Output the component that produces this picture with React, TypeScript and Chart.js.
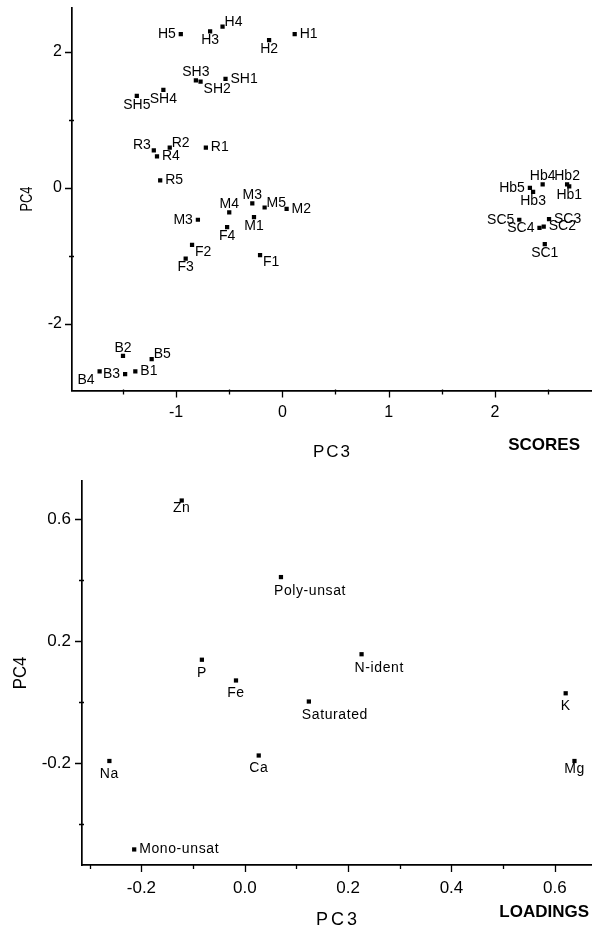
import React, { useEffect, useRef } from 'react';
import { Chart, registerables } from 'chart.js';

Chart.register(...registerables);

// ---------------- SCORES data ----------------
const SCORE_NAMES = [
  'H1', 'H2', 'H3', 'H4', 'H5',
  'SH1', 'SH2', 'SH3', 'SH4', 'SH5',
  'R1', 'R2', 'R3', 'R4', 'R5',
  'M1', 'M2', 'M3', 'M4', 'M5', 'M3',
  'F1', 'F2', 'F3', 'F4',
  'Hb1', 'Hb2', 'Hb3', 'Hb4', 'Hb5',
  'SC1', 'SC2', 'SC3', 'SC4', 'SC5',
  'B1', 'B2', 'B3', 'B4', 'B5',
];
const SCORE_PC3 = [
  0.116, -0.125, -0.68, -0.563, -0.956,
  -0.535, -0.77, -0.814, -1.12, -1.37,
  -0.72, -1.06, -1.21, -1.18, -1.15,
  -0.267, 0.04, -0.283, -0.5, -0.167, -0.795,
  -0.21, -0.85, -0.91, -0.52,
  2.70, 2.68, 2.36, 2.45, 2.33,
  2.47, 2.46, 2.51, 2.42, 2.23,
  -1.384, -1.50, -1.48, -1.72, -1.23,
];
const SCORE_PC4 = [
  2.26, 2.17, 2.30, 2.37, 2.26,
  1.60, 1.56, 1.58, 1.44, 1.35,
  0.59, 0.59, 0.55, 0.46, 0.11,
  -0.43, -0.31, -0.23, -0.36, -0.29, -0.47,
  -0.99, -0.84, -1.04, -0.58,
  0.02, 0.05, -0.06, 0.05, 0.0,
  -0.83, -0.57, -0.46, -0.59, -0.47,
  -2.70, -2.47, -2.74, -2.70, -2.52,
];
// label placement relative to marker
const SCORE_PLACE = [
  'E', 'S', 'S', 'NE', 'W',
  'E', 'SE', 'N', 'S', 'S',
  'E', 'NE', 'NW', 'E', 'E',
  'S', 'E', 'N', 'N', 'NE', 'W',
  'SE', 'SE', 'S', 'S',
  'S', 'N', 'S', 'N', 'W',
  'S', 'E', 'E', 'W', 'W',
  'E', 'N', 'W', 'SW', 'NE',
];
const SCORE_X_LABELLED = [-1, 0, 1, 2];
const SCORE_X_MINOR = [-1.5, -0.5, 0.5, 1.5, 2.5];
const SCORE_Y_LABELLED = [-2, 0, 2];
const SCORE_Y_MINOR = [-1, 1];

// ---------------- LOADINGS data ----------------
const LOAD_NAMES = ['Zn', 'Poly-unsat', 'P', 'Fe', 'Saturated', 'N-ident', 'K', 'Na', 'Ca', 'Mg', 'Mono-unsat'];
const LOAD_PC3 = [-0.122, 0.070, -0.083, -0.017, 0.124, 0.226, 0.621, -0.262, 0.027, 0.638, -0.214];
const LOAD_PC4 = [0.662, 0.411, 0.14, 0.072, 0.003, 0.158, 0.03, -0.192, -0.174, -0.192, -0.482];
const LOAD_PLACE = ['S0', 'Sl', 'S', 'S', 'Sl', 'Sl', 'S', 'S', 'S', 'S0', 'E'];
const LOAD_X_LABELLED = [-0.2, 0, 0.2, 0.4, 0.6];
const LOAD_X_MINOR = [-0.3, -0.1, 0.1, 0.3, 0.5];
const LOAD_Y_LABELLED = [-0.2, 0.2, 0.6];
const LOAD_Y_MINOR = [-0.4, 0, 0.4];

const FONT = "'Liberation Sans', Arial, Helvetica, sans-serif";

type Cfg = {
  names: string[];
  place: string[];
  labelFont: string;
  labelSpacing: string;
  sOff: number;
  xMajor: number[];
  xMinor: number[];
  yMajor: number[];
  yMinor: number[];
  yTitleX: number;
  yTitleSize: number;
  yTitleScale: number;
  xTitleY: number;
  xTitleSize: number;
  xTitleSpacing: number;
  captionText: string;
  captionX: number;
  captionY: number;
};

function makeDecor(cfg: Cfg) {
  return {
    id: 'decor',
    afterDraw(chart: any) {
      const ctx: CanvasRenderingContext2D = chart.ctx;
      const xs = chart.scales.x;
      const ys = chart.scales.y;
      const area = chart.chartArea;
      ctx.save();
      ctx.strokeStyle = '#000';
      ctx.lineWidth = 1.3;
      ctx.beginPath();
      cfg.xMajor.forEach((v) => {
        const p = Math.round(xs.getPixelForValue(v)) + 0.5;
        ctx.moveTo(p, area.bottom);
        ctx.lineTo(p, area.bottom + 7);
      });
      cfg.xMinor.forEach((v) => {
        const p = Math.round(xs.getPixelForValue(v)) + 0.5;
        ctx.moveTo(p, area.bottom - 1);
        ctx.lineTo(p, area.bottom + 4);
      });
      cfg.yMajor.forEach((v) => {
        const p = Math.round(ys.getPixelForValue(v)) + 0.5;
        ctx.moveTo(area.left, p);
        ctx.lineTo(area.left - 7, p);
      });
      cfg.yMinor.forEach((v) => {
        const p = Math.round(ys.getPixelForValue(v)) + 0.5;
        ctx.moveTo(area.left + 2, p);
        ctx.lineTo(area.left - 3, p);
      });
      ctx.stroke();

      // point labels
      ctx.fillStyle = '#000';
      ctx.font = cfg.labelFont;
      (ctx as any).letterSpacing = cfg.labelSpacing;
      const meta = chart.getDatasetMeta(0);
      meta.data.forEach((pt: any, i: number) => {
        const x = pt.x;
        const y = pt.y;
        const code = cfg.place[i];
        let tx = x, ty = y;
        let align: CanvasTextAlign = 'center';
        let base: CanvasTextBaseline = 'middle';
        switch (code) {
          case 'N': align = 'center'; base = 'alphabetic'; ty = y - 4; break;
          case 'S': align = 'center'; base = 'top'; ty = y + cfg.sOff; break;
          case 'S0': align = 'center'; base = 'top'; ty = y + 1; break;
          case 'Sl': align = 'left'; base = 'top'; tx = x - 7; ty = y + cfg.sOff + 1; break;
          case 'E': align = 'left'; base = 'middle'; tx = x + 5; break;
          case 'W': align = 'right'; base = 'middle'; tx = x - 5; break;
          case 'NE': align = 'left'; base = 'alphabetic'; tx = x + 2; ty = y - 1; break;
          case 'NW': align = 'right'; base = 'alphabetic'; tx = x - 3; ty = y - 1; break;
          case 'SE': align = 'left'; base = 'top'; tx = x + 3; ty = y; break;
          case 'SW': align = 'right'; base = 'top'; tx = x - 5; ty = y + 2; break;
        }
        ctx.textAlign = align;
        ctx.textBaseline = base;
        ctx.fillText(cfg.names[i], tx, ty);
      });

      // axis titles
      (ctx as any).letterSpacing = '0px';
      ctx.save();
      ctx.translate(cfg.yTitleX, (area.top + area.bottom) / 2);
      ctx.rotate(-Math.PI / 2);
      ctx.scale(cfg.yTitleScale, 1);
      ctx.font = `${cfg.yTitleSize}px ${FONT}`;
      ctx.textAlign = 'center';
      ctx.textBaseline = 'middle';
      ctx.fillText('PC4', 0, 0);
      ctx.restore();

      ctx.font = `${cfg.xTitleSize}px ${FONT}`;
      (ctx as any).letterSpacing = `${cfg.xTitleSpacing}px`;
      ctx.textAlign = 'center';
      ctx.textBaseline = 'middle';
      ctx.fillText('PC3', (area.left + area.right) / 2 + cfg.xTitleSpacing / 2, cfg.xTitleY);

      (ctx as any).letterSpacing = '0px';
      ctx.font = `bold 17px ${FONT}`;
      ctx.textAlign = 'right';
      ctx.textBaseline = 'middle';
      ctx.fillText(cfg.captionText, cfg.captionX, cfg.captionY);
      ctx.restore();
    },
  };
}

function buildChart(
  canvas: HTMLCanvasElement,
  opts: {
    pc3: number[];
    pc4: number[];
    xMin: number; xMax: number; yMin: number; yMax: number;
    xLabelled: number[]; xMinor: number[]; yLabelled: number[]; yMinor: number[];
    fmt: (v: number) => string;
    padTop: number; areaLeft: number; xHeight: number;
    tickSize: number; xTickPad: number; yTickPad: number;
    decor: Cfg;
  }
) {
  const xAll = [...opts.xLabelled, ...opts.xMinor].sort((a, b) => a - b);
  const yAll = [...opts.yLabelled, ...opts.yMinor].sort((a, b) => a - b);
  const isLab = (list: number[], v: number) => list.some((l) => Math.abs(l - v) < 1e-9);
  return new Chart(canvas, {
    type: 'scatter',
    data: {
      datasets: [
        {
          data: opts.pc3.map((x, i) => ({ x, y: opts.pc4[i] })),
          pointStyle: 'rect',
          pointRadius: 3,
          pointHoverRadius: 3,
          backgroundColor: '#000',
          borderColor: '#000',
          borderWidth: 0,
        },
      ],
    },
    options: {
      responsive: false,
      animation: false,
      events: [],
      layout: { padding: { top: opts.padTop, right: 3, left: 0, bottom: 0 } },
      plugins: { legend: { display: false }, tooltip: { enabled: false } },
      scales: {
        x: {
          type: 'linear',
          min: opts.xMin,
          max: opts.xMax,
          afterBuildTicks: (s: any) => { s.ticks = xAll.map((v) => ({ value: v })); },
          afterFit: (s: any) => {
            s.height = opts.xHeight;
            s.paddingLeft = 0; s.paddingRight = 0; s.paddingTop = 0; s.paddingBottom = 0;
          },
          grid: { display: false, drawTicks: true, tickLength: 7 },
          border: { display: true, color: '#000', width: 1.7 },
          ticks: {
            autoSkip: false,
            maxRotation: 0,
            padding: opts.xTickPad,
            color: '#000',
            font: { family: FONT, size: opts.tickSize },
            callback: (v: any) => (isLab(opts.xLabelled, Number(v)) ? opts.fmt(Number(v)) : ''),
          },
        },
        y: {
          type: 'linear',
          min: opts.yMin,
          max: opts.yMax,
          afterBuildTicks: (s: any) => { s.ticks = yAll.map((v) => ({ value: v })); },
          afterFit: (s: any) => {
            s.width = opts.areaLeft;
            s.paddingLeft = 0; s.paddingRight = 0; s.paddingTop = 0; s.paddingBottom = 0;
          },
          grid: { display: false, drawTicks: true, tickLength: 7 },
          border: { display: true, color: '#000', width: 1.7 },
          ticks: {
            autoSkip: false,
            padding: opts.yTickPad,
            color: '#000',
            font: { family: FONT, size: opts.tickSize },
            callback: (v: any) => (isLab(opts.yLabelled, Number(v)) ? opts.fmt(Number(v)) : ''),
          },
        },
      },
    },
    plugins: [makeDecor(opts.decor) as any],
  });
}

export default function App() {
  const topRef = useRef<HTMLCanvasElement>(null);
  const botRef = useRef<HTMLCanvasElement>(null);

  useEffect(() => {
    const c1 = buildChart(topRef.current!, {
      pc3: SCORE_PC3,
      pc4: SCORE_PC4,
      xMin: -1.98, xMax: 2.905, yMin: -2.98, yMax: 2.65,
      xLabelled: SCORE_X_LABELLED, xMinor: SCORE_X_MINOR,
      yLabelled: SCORE_Y_LABELLED, yMinor: SCORE_Y_MINOR,
      fmt: (v) => String(Math.round(v)),
      padTop: 7.5, areaLeft: 72, xHeight: 74.5,
      tickSize: 16, xTickPad: 5, yTickPad: 3,
      decor: {
        names: SCORE_NAMES, place: SCORE_PLACE,
        labelFont: `14px ${FONT}`, labelSpacing: '0px', sOff: 2,
        xMajor: SCORE_X_LABELLED, xMinor: SCORE_X_MINOR,
        yMajor: SCORE_Y_LABELLED, yMinor: SCORE_Y_MINOR,
        yTitleX: 28, yTitleSize: 16, yTitleScale: 0.8,
        xTitleY: 452, xTitleSize: 17, xTitleSpacing: 2,
        captionText: 'SCORES', captionX: 580, captionY: 445,
      },
    });
    const c2 = buildChart(botRef.current!, {
      pc3: LOAD_PC3,
      pc4: LOAD_PC4,
      xMin: -0.315, xMax: 0.67, yMin: -0.533, yMax: 0.726,
      xLabelled: LOAD_X_LABELLED, xMinor: LOAD_X_MINOR,
      yLabelled: LOAD_Y_LABELLED, yMinor: LOAD_Y_MINOR,
      fmt: (v) => (Math.abs(v) < 1e-9 ? '0.0' : v.toFixed(1)),
      padTop: 16, areaLeft: 82, xHeight: 63,
      tickSize: 17, xTickPad: 6, yTickPad: 4,
      decor: {
        names: LOAD_NAMES, place: LOAD_PLACE,
        labelFont: `14px ${FONT}`, labelSpacing: '0.6px', sOff: 6,
        xMajor: LOAD_X_LABELLED, xMinor: LOAD_X_MINOR,
        yMajor: LOAD_Y_LABELLED, yMinor: LOAD_Y_MINOR,
        yTitleX: 21, yTitleSize: 19, yTitleScale: 0.88,
        xTitleY: 455, xTitleSize: 18, xTitleSpacing: 3,
        captionText: 'LOADINGS', captionX: 589, captionY: 447,
      },
    });
    return () => {
      c1.destroy();
      c2.destroy();
    };
  }, []);

  return (
    <div style={{ position: 'absolute', left: 0, top: 0, width: 594, height: 928, background: '#fff' }}>
      <canvas ref={topRef} width={594} height={465} style={{ position: 'absolute', left: 0, top: 0, width: 594, height: 465 }} />
      <canvas ref={botRef} width={594} height={463} style={{ position: 'absolute', left: 0, top: 465, width: 594, height: 463 }} />
    </div>
  );
}
